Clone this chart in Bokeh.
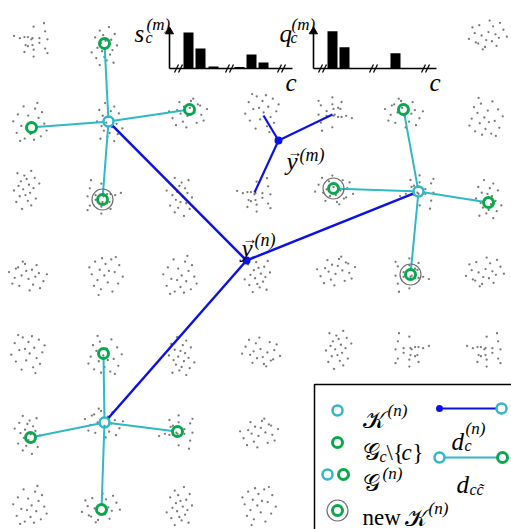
from bokeh.plotting import figure
from bokeh.models import Range1d
from bokeh.core.properties import value
from bokeh.embed import file_html
from bokeh.resources import INLINE
import math

# ---------------- data ----------------
# histogram values (relative heights)
s_vals = [0.90, 0.50, 0.05, 0.04, 0.35, 0.15]
q_vals = [0.93, 0.53, 0.0, 0.0, 0.38, 0.0]
hist_slots = [19, 31, 44, 70, 82, 94]
hist_breaks = [9, 60, 112]

# cluster centres of the grey samples (diagram coordinates)
cl_x = [32, 105, 488,
        30, 108, 187, 262, 333, 404, 485,
        25, 102, 180, 255, 333, 418, 487,
        28, 105, 180, 258, 335, 410, 485,
        28, 104, 180, 260, 337, 410, 485,
        28, 104, 177, 258,
        30, 101, 180, 258]
cl_y = [40, 45, 35,
        122, 121, 112, 112, 113, 112, 117,
        190, 197, 197, 195, 190, 191, 198,
        275, 275, 275, 272, 270, 274, 272,
        353, 355, 355, 352, 350, 350, 350,
        435, 422, 431, 432,
        505, 508, 505, 505]
cl_pat = [0, 5, 10,
          3, 1, 6, 11, 12, 2, 7,
          9, 4, 13, 0, 14, 8, 1,
          2, 15, 3, 5, 6, 12, 10,
          11, 7, 1, 14, 9, 4, 0,
          13, 2, 8, 6,
          3, 10, 5, 15]

PAT_DX = [
    [1, 10, 11, -16, -11, -7, -4, -1, 0, 6, 13, 6, -6, -4, 0, 11, 1, -7, 13, 1],
    [-3, 5, -8, 2, 9, -5, 0, 4, -10, -2, 7, -6, 3, 12, -4, 1, 8, -1, -7, 5],
    [-17, -12, -9, -6, -3, 0, 3, 6, 9, 13, 16, -14, -8, -2, 4, 10, -5, 1, 7, -11],
    [-6, 4, 10, -11, -2, 7, -15, 1, 12, -8, -3, 5, 14, -12, 0, 9, -5, 3, -9, 6],
]
PAT_DY = [
    [-12, -15, -8, -4, -2, -3, -3, -1, -2, -2, -1, 2, 4, 5, 4, 7, 8, 10, 11, 14],
    [-16, -13, -10, -9, -7, -5, -4, -2, 0, 1, 2, 4, 5, 6, 8, 10, 11, 13, 15, 17],
    [-3, 2, -7, 0, -10, 3, -5, 1, -2, 5, -1, 7, 9, -4, 8, 11, -12, 13, -9, -6],
    [-14, -12, -9, -7, -6, -4, -1, 0, 1, 3, 4, 5, 7, 9, 10, 12, 14, 15, 16, -17],
]

# stars: centre (K^(n)) and its neighbours (G_c \ {c})
star_cx = [108, 418, 104]
star_cy = [121, 191, 422]
star_ex = [[104, 31, 189, 102], [403, 333, 488, 410], [103, 30, 177, 101]]
star_ey = [[43, 127, 109, 199], [109, 188, 202, 274], [353, 437, 431, 509]]
ring_x = [102, 333, 410]
ring_y = [199, 188, 274]

node_n = (246, 260)
node_m = (278, 140)
m_ex = [263, 332, 254]
m_ey = [115, 114, 192]

CYAN = "#2fb8c6"
GREEN = "#08a84c"
BLUE = "#0c12e6"
GREY = "#7a7a7a"

p = figure(width=511, height=529, x_range=Range1d(0, 511), y_range=Range1d(529, 0),
           output_backend="svg", toolbar_location=None, min_border=0,
           x_axis_location=None, y_axis_location=None)
p.grid.visible = False
p.outline_line_color = None
p.background_fill_color = "white"


def trim(x0, y0, x1, y1, r0, r1):
    d = math.hypot(x1 - x0, y1 - y0)
    ux, uy = (x1 - x0) / d, (y1 - y0) / d
    return x0 + ux * r0, y0 + uy * r0, x1 - ux * r1, y1 - uy * r1


def tx(x, y, s, size, style="italic", font="Liberation Serif", align="left"):
    p.text(x=[x], y=[y], text=[s], text_font=value(font), text_font_size=f"{size}px",
           text_font_style=style, text_baseline="alphabetic", text_align=align,
           text_color="black")


# grey samples
dot_x, dot_y = [], []
for cx, cy, k in zip(cl_x, cl_y, cl_pat):
    dx, dy = PAT_DX[k % 4], PAT_DY[k % 4]
    sx = -1.15 if (k // 4) % 2 else 1.15
    sy = -1.15 if (k // 8) % 2 else 1.15
    for a, b in zip(dx, dy):
        dot_x.append(cx + sx * a)
        dot_y.append(cy + sy * b)
p.scatter(dot_x, dot_y, size=2.3, color=GREY, line_color=None)

# cyan star edges
for cx, cy, exs, eys in zip(star_cx, star_cy, star_ex, star_ey):
    for ex, ey in zip(exs, eys):
        a, b, c, d = trim(cx, cy, ex, ey, 5, 5)
        p.segment(a, b, c, d, line_color=CYAN, line_width=2)

# blue edges from y^(n)
for cx, cy in zip(star_cx, star_cy):
    a, b, c, d = trim(node_n[0], node_n[1], cx, cy, 0, 5)
    p.segment(a, b, c, d, line_color=BLUE, line_width=2.5)
for ex, ey in zip(m_ex, m_ey):
    p.segment(node_m[0], node_m[1], ex, ey, line_color=BLUE, line_width=2.2)
p.scatter([node_n[0], node_m[0]], [node_n[1], node_m[1]], size=8, color=BLUE, line_color=None)

# rings, neighbours, centres
p.scatter(ring_x, ring_y, size=21, fill_color=None, line_color="#707070", line_width=1.2)
gx = [x for xs in star_ex for x in xs]
gy = [y for ys in star_ey for y in ys]
p.scatter(gx, gy, size=10, fill_color=None, line_color=GREEN, line_width=3)
p.scatter(star_cx, star_cy, size=10, fill_color=None, line_color=CYAN, line_width=2.5)

# labels y^(n), y^(m)
tx(241, 248, "y", 25)
tx(242, 238, "\u2192", 15, style="normal")
tx(254, 239, "(n)", 18)
tx(286, 161, "y", 25)
tx(287, 151, "\u2192", 15, style="normal")
tx(299, 154, "(m)", 18)

# ---------------- histograms ----------------
for ox, vals, name, lx in [(169, s_vals, "s", 134), (313, q_vals, "q", 279)]:
    base = 68
    p.segment(ox, base, ox + 123, base, line_color="black", line_width=1.6)
    p.segment(ox, base, ox, 33, line_color="black", line_width=1.6)
    p.scatter([ox], [31], marker="triangle", size=8, color="black")
    for b in hist_breaks:
        for off in (-2, 2):
            p.segment(ox + b + off - 2, base + 4, ox + b + off + 2, base - 4,
                      line_color="black", line_width=1.3)
    for sl, v in zip(hist_slots, vals):
        if v > 0:
            p.quad(left=ox + sl - 5, right=ox + sl + 5, top=base - 40 * v, bottom=base,
                   fill_color="black", line_color=None)
    tx(ox + 116, 82, "c", 25)
    tx(lx, 33, name, 25)
    tx(lx + 11, 37, "c", 16)
    tx(lx + 12, 24, "(m)", 17)

# ---------------- legend box ----------------
p.quad(left=314, right=540, top=384, bottom=560, fill_color="white",
       line_color="black", line_width=1.5)
p.scatter([337], [410], size=10, fill_color=None, line_color=CYAN, line_width=2.5)
p.scatter([337], [442], size=10, fill_color=None, line_color=GREEN, line_width=3)
p.scatter([327], [474], size=10, fill_color=None, line_color=CYAN, line_width=2.5)
p.scatter([343], [474], size=10, fill_color=None, line_color=GREEN, line_width=3)
p.scatter([337], [510], size=21, fill_color=None, line_color="#707070", line_width=1.2)
p.scatter([337], [510], size=10, fill_color=None, line_color=GREEN, line_width=3)

tx(362, 419, "\U0001D4A6", 24, style="normal")
tx(387, 410, "(n)", 17)
tx(362, 451, "\U0001D4A2", 24, style="normal")
tx(379, 456, "c", 16)
tx(386, 452, "\\{", 23, style="normal")
tx(401, 452, "c", 23)
tx(412, 452, "}", 23, style="normal")
tx(362, 482, "\U0001D4A2", 24, style="normal")
tx(382, 473, "(n)", 17)
tx(362, 517, "new", 23, style="normal")
tx(404, 517, "\U0001D4A6", 24, style="normal")
tx(428, 508, "(n)", 17)

p.segment(439, 408, 496, 408, line_color=BLUE, line_width=2)
p.scatter([439], [408], size=7, color=BLUE, line_color=None)
p.scatter([501], [408], size=10, fill_color=None, line_color=CYAN, line_width=2.5)
tx(451, 441, "d", 25)
tx(464, 445, "c", 16)
tx(465, 428, "(n)", 17)

p.segment(444, 457, 497, 457, line_color=CYAN, line_width=2)
p.scatter([439], [457], size=10, fill_color=None, line_color=CYAN, line_width=2.5)
p.scatter([502], [457], size=10, fill_color=None, line_color=GREEN, line_width=3)
tx(456, 484, "d", 25)
tx(469, 489, "cc\u0303", 16)

open("out.html", "w").write(file_html(p, INLINE))
